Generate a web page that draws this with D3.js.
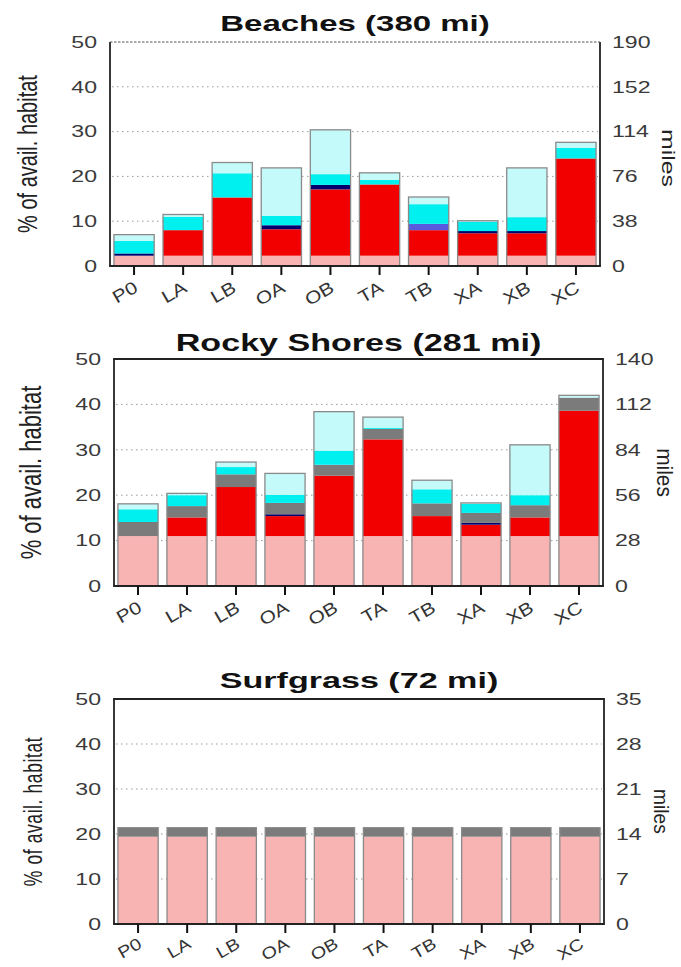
<!DOCTYPE html>
<html>
<head>
<meta charset="utf-8">
<script src="https://cdn.jsdelivr.net/npm/d3@7"></script>
<style>
  body { margin: 0; background: #fff; }
  svg { display: block; }
  text { font-family: "Liberation Sans", Arial, sans-serif; }
</style>
</head>
<body>
<svg id="chart" width="681" height="967"></svg>
<script>
// ---- data ------------------------------------------------------------
const categories = ["P0", "LA", "LB", "OA", "OB", "TA", "TB", "XA", "XB", "XC"];
const percentTicks = [0, 10, 20, 30, 40, 50];

// Beaches (380 mi): stacked shares of available habitat, in percent
const beachPink  = [2.3, 2.3, 2.3, 2.3, 2.3, 2.3, 2.3, 2.3, 2.3, 2.3];
const beachRed   = [0, 5.7, 13.0, 5.9, 14.8, 15.9, 5.7, 5.0, 5.0, 21.7];
const beachNavy  = [0.5, 0, 0, 0.9, 1.0, 0, 0, 0.5, 0.5, 0];
const beachBlue  = [0, 0, 0, 0, 0, 0, 1.4, 0, 0, 0];
const beachGray  = [0, 0, 0, 0, 0, 0, 0, 0, 0, 0];
const beachCyan  = [2.8, 3.0, 5.4, 2.1, 2.4, 1.0, 4.4, 2.1, 3.1, 2.4];
const beachLight = [1.4, 0.5, 2.4, 10.7, 9.9, 1.6, 1.6, 0.2, 11.0, 1.2];
const beachMiles = [0, 38, 76, 114, 152, 190];

// Rocky Shores (281 mi)
const rockyPink  = [11.0, 11.0, 11.0, 11.0, 11.0, 11.0, 11.0, 11.0, 11.0, 11.0];
const rockyRed   = [0, 4.1, 10.8, 4.4, 13.3, 21.3, 4.4, 2.5, 4.1, 27.6];
const rockyNavy  = [0, 0, 0, 0.4, 0, 0, 0, 0.4, 0, 0];
const rockyBlue  = [0, 0, 0, 0, 0, 0, 0, 0, 0, 0];
const rockyGray  = [3.1, 2.5, 2.8, 2.5, 2.4, 2.3, 2.8, 2.2, 2.7, 2.9];
const rockyCyan  = [2.8, 2.4, 1.6, 1.8, 3.1, 0.2, 3.1, 2.0, 2.2, 0];
const rockyLight = [1.2, 0.4, 1.1, 4.7, 8.6, 2.4, 2.0, 0.2, 11.1, 0.5];
const rockyMiles = [0, 28, 56, 84, 112, 140];

// Surfgrass (72 mi)
const grassPink  = [19.4, 19.4, 19.4, 19.4, 19.4, 19.4, 19.4, 19.4, 19.4, 19.4];
const grassRed   = [0, 0, 0, 0, 0, 0, 0, 0, 0, 0];
const grassNavy  = [0, 0, 0, 0, 0, 0, 0, 0, 0, 0];
const grassBlue  = [0, 0, 0, 0, 0, 0, 0, 0, 0, 0];
const grassGray  = [2.0, 2.0, 2.0, 2.0, 2.0, 2.0, 2.0, 2.0, 2.0, 2.0];
const grassCyan  = [0, 0, 0, 0, 0, 0, 0, 0, 0, 0];
const grassLight = [0, 0, 0, 0, 0, 0, 0, 0, 0, 0];
const grassMiles = [0, 7, 14, 21, 28, 35];

// ---- styling ---------------------------------------------------------
const layerKeys = ["pink", "red", "navy", "blue", "gray", "cyan", "light"];
const layerColors = {
  pink: "#f8b3b3", red: "#f20000", navy: "#00006e", blue: "#5a5ade",
  gray: "#7b7b7b", cyan: "#00f0f0", light: "#c4fafa"
};

const panels = [
  {
    title: "Beaches (380 mi)",
    series: [beachPink, beachRed, beachNavy, beachBlue, beachGray, beachCyan, beachLight],
    miles: beachMiles,
    box: { x0: 110, x1: 600, y0: 42, y1: 266 },
    dottedTop: true,
    titleFont: { size: 22, sx: 1.5, gap: 11 },
    yTitle: { x: 27, size: 20, sx: 1.35, ls: 0 },
    milesLabel: { x: 668, dy: 4, size: 18, sx: 1, sy: 1.38 },
    xLabel: { dy: 25, size: 17.5 }
  },
  {
    title: "Rocky Shores (281 mi)",
    series: [rockyPink, rockyRed, rockyNavy, rockyBlue, rockyGray, rockyCyan, rockyLight],
    miles: rockyMiles,
    box: { x0: 114, x1: 603, y0: 359, y1: 586 },
    dottedTop: false,
    titleFont: { size: 24, sx: 1.42, gap: 8.5 },
    yTitle: { x: 31, size: 22, sx: 1.37, ls: 0 },
    milesLabel: { x: 665, dy: 0, size: 19, sx: 1.2, sy: 1.1 },
    xLabel: { dy: 25, size: 17.5 }
  },
  {
    title: "Surfgrass (72 mi)",
    series: [grassPink, grassRed, grassNavy, grassBlue, grassGray, grassCyan, grassLight],
    miles: grassMiles,
    box: { x0: 114, x1: 604, y0: 699, y1: 924 },
    dottedTop: false,
    titleFont: { size: 22, sx: 1.55, gap: 11 },
    yTitle: { x: 33, size: 17.5, sx: 1.5, ls: 0.6 },
    milesLabel: { x: 661, dy: 0, size: 16, sx: 1.25, sy: 1.2 },
    xLabel: { dy: 23, size: 16.5 }
  }
];

const svg = d3.select("#chart");

panels.forEach(p => {
  const { x0, x1, y0, y1 } = p.box;
  const g = svg.append("g");

  const x = d3.scaleBand().domain(categories).range([x0, x1])
    .paddingInner(0.18).paddingOuter(0.08);
  const y = d3.scaleLinear().domain([0, 50]).range([y1, y0]);
  const yRight = d3.scaleLinear()
    .domain([0, p.miles[p.miles.length - 1]]).range([y1, y0]);

  // rows for the stack layout
  const rows = categories.map((c, i) => {
    const r = { cat: c };
    layerKeys.forEach((k, j) => { r[k] = p.series[j][i]; });
    return r;
  });
  const stacked = d3.stack().keys(layerKeys)(rows);

  // dotted gridlines
  g.append("g").selectAll("line")
    .data([10, 20, 30, 40])
    .join("line")
    .attr("x1", x0 + 2).attr("x2", x1 - 2)
    .attr("y1", d => y(d)).attr("y2", d => y(d))
    .attr("stroke", "#999")
    .attr("stroke-width", 1)
    .attr("stroke-dasharray", "1.5,3.5");

  // stacked bars
  g.append("g").selectAll("g")
    .data(stacked)
    .join("g")
    .attr("fill", d => layerColors[d.key])
    .selectAll("rect")
    .data(d => d.filter(s => s[1] - s[0] > 0))
    .join("rect")
    .attr("x", d => x(d.data.cat))
    .attr("width", x.bandwidth())
    .attr("y", d => y(d[1]))
    .attr("height", d => y(d[0]) - y(d[1]));

  // bar outlines
  const top = stacked[stacked.length - 1];
  g.append("g").selectAll("rect")
    .data(top)
    .join("rect")
    .attr("x", d => x(d.data.cat))
    .attr("width", x.bandwidth())
    .attr("y", d => y(d[1]))
    .attr("height", d => y(0) - y(d[1]))
    .attr("fill", "none")
    .attr("stroke", "#8a8a8a")
    .attr("stroke-width", 1.3);

  // frame
  const frame = g.append("g").attr("stroke", "#222").attr("stroke-width", 1.8).attr("fill", "none");
  frame.append("line").attr("x1", x0).attr("x2", x0).attr("y1", y0).attr("y2", y1);
  frame.append("line").attr("x1", x1).attr("x2", x1).attr("y1", y0).attr("y2", y1);
  frame.append("line").attr("x1", x0 - 0.9).attr("x2", x1 + 0.9).attr("y1", y1).attr("y2", y1);
  if (p.dottedTop) {
    frame.append("line").attr("x1", x0).attr("x2", x1).attr("y1", y0).attr("y2", y0)
      .attr("stroke", "#555").attr("stroke-width", 1.2).attr("stroke-dasharray", "2.5,1.5");
  } else {
    frame.append("line").attr("x1", x0 - 0.9).attr("x2", x1 + 0.9).attr("y1", y0).attr("y2", y0);
  }

  // left axis (percent)
  const left = g.append("g").attr("transform", `translate(${x0},0)`)
    .call(d3.axisLeft(y).tickValues(percentTicks).tickSize(0).tickPadding(0));
  left.select(".domain").remove();
  left.selectAll("text")
    .attr("x", 0)
    .attr("transform", "translate(-13,0) scale(1.4,1)")
    .attr("font-size", 16.5)
    .attr("fill", "#3a3a3a")
    .attr("font-family", "Liberation Sans, Arial, sans-serif");

  // right axis (miles)
  const right = g.append("g").attr("transform", `translate(${x1},0)`)
    .call(d3.axisRight(yRight).tickValues(p.miles).tickSize(0).tickPadding(0));
  right.select(".domain").remove();
  right.selectAll("text")
    .attr("x", 0)
    .attr("transform", "translate(12,0) scale(1.4,1)")
    .attr("font-size", 16.5)
    .attr("fill", "#3a3a3a")
    .attr("font-family", "Liberation Sans, Arial, sans-serif");

  // bottom axis with rotated category labels
  const bottom = g.append("g").attr("transform", `translate(0,${y1})`)
    .call(d3.axisBottom(x).tickSize(9).tickPadding(0));
  bottom.select(".domain").remove();
  bottom.selectAll("line").attr("stroke", "#111").attr("stroke-width", 2);
  bottom.selectAll("text")
    .attr("x", 0).attr("y", 0).attr("dy", 0)
    .attr("text-anchor", "end")
    .attr("transform", `translate(5,${p.xLabel.dy}) rotate(-30) scale(1.2,1)`)
    .attr("font-size", p.xLabel.size)
    .attr("fill", "#333")
    .attr("font-family", "Liberation Sans, Arial, sans-serif");

  // panel title
  g.append("text")
    .attr("transform", `translate(${(x0 + x1) / 2},${y0 - p.titleFont.gap}) scale(${p.titleFont.sx},1)`)
    .attr("text-anchor", "middle")
    .attr("font-size", p.titleFont.size)
    .attr("font-weight", "bold")
    .attr("fill", "#111")
    .text(p.title);

  // left axis title
  g.append("g")
    .attr("transform", `translate(${p.yTitle.x},${(y0 + y1) / 2}) scale(${p.yTitle.sx},1)`)
    .append("text")
    .attr("transform", "rotate(-90)")
    .attr("text-anchor", "middle")
    .attr("dominant-baseline", "central")
    .attr("font-size", p.yTitle.size)
    .attr("letter-spacing", p.yTitle.ls)
    .attr("fill", "#222")
    .text("% of avail. habitat");

  // right axis title
  const m = p.milesLabel;
  g.append("g")
    .attr("transform", `translate(${m.x},${(y0 + y1) / 2 + m.dy}) scale(${m.sx},${m.sy})`)
    .append("text")
    .attr("transform", "rotate(90)")
    .attr("text-anchor", "middle")
    .attr("dominant-baseline", "central")
    .attr("font-size", m.size)
    .attr("fill", "#222")
    .text("miles");
});
</script>
</body>
</html>
